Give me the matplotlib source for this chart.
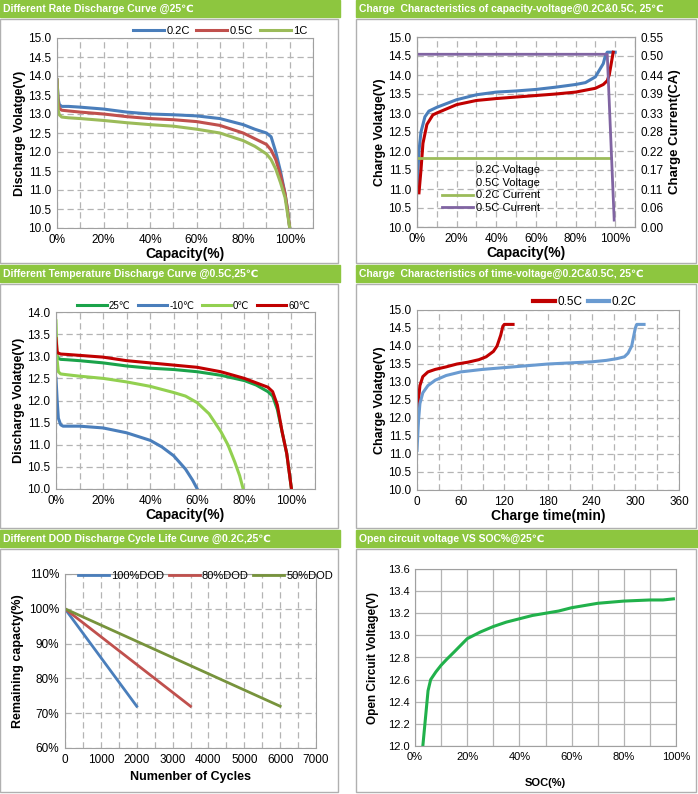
import matplotlib
matplotlib.use("Agg")
import matplotlib.pyplot as plt
from matplotlib.lines import Line2D
from matplotlib.patches import Rectangle
from matplotlib.ticker import MultipleLocator, FuncFormatter, PercentFormatter

plt.rcParams['font.family'] = ['Liberation Sans', 'DejaVu Sans']

W, H = 698, 794
GREEN_BAR = '#8dc63f'
BLUE, RED, OLIVE = '#4a7ebb', '#c0504d', '#9bbb59'

# panel 1: rate discharge
rate_cap = [0, 0.5, 1, 2, 5, 10, 20, 30, 40, 50, 60, 70, 80, 85, 90, 92, 94, 96, 98, 99, 100]
rate_02c = [13.9, 13.4, 13.25, 13.2, 13.2, 13.18, 13.13, 13.05, 13.0, 12.98, 12.95, 12.88, 12.72, 12.6, 12.5, 12.4, 12.0, 11.5, 10.9, 10.5, 10.0]
rate_05c = [13.9, 13.3, 13.15, 13.1, 13.08, 13.05, 13.0, 12.93, 12.88, 12.85, 12.8, 12.7, 12.5, 12.35, 12.2, 12.05, 11.8, 11.4, 10.9, 10.5, 10.0]
rate_1c = [13.9, 13.1, 12.98, 12.92, 12.9, 12.88, 12.83, 12.77, 12.72, 12.68, 12.6, 12.5, 12.3, 12.15, 11.95, 11.8, 11.55, 11.2, 10.8, 10.4, 10.0]

# panel 2: charge capacity-voltage
cv_cap_02 = [0, 0.5, 1, 2, 4, 6, 10, 20, 30, 40, 50, 60, 70, 80, 85, 90, 94, 95, 96, 100]
cv_v_02 = [10.9, 11.5, 12.0, 12.5, 12.9, 13.05, 13.15, 13.35, 13.48, 13.55, 13.58, 13.62, 13.68, 13.75, 13.8, 13.95, 14.3, 14.5, 14.6, 14.6]
cv_cap_05 = [1, 2, 3, 5, 8, 10, 20, 30, 40, 50, 60, 70, 80, 85, 90, 94, 96, 97, 98, 99]
cv_v_05 = [10.9, 11.5, 12.2, 12.7, 12.95, 13.0, 13.22, 13.33, 13.38, 13.42, 13.46, 13.5, 13.55, 13.6, 13.65, 13.75, 13.85, 14.0, 14.3, 14.6]
cur_cap_02 = [0.5, 98]
cur_02 = [0.2, 0.2]
cur_cap_05 = [0, 96, 99.5]
cur_05 = [0.5, 0.5, 0.02]

# panel 3: temperature discharge
t_cap = [0, 0.5, 1, 2, 5, 10, 20, 30, 40, 50, 60, 70, 80, 85, 90, 92, 94, 96, 98, 99, 100]
t_25 = [13.1, 13.0, 12.95, 12.93, 12.92, 12.9, 12.85, 12.78, 12.73, 12.7, 12.65, 12.57, 12.45, 12.35, 12.2, 12.1, 11.8, 11.3, 10.8, 10.4, 10.0]
t_60 = [13.4, 13.1, 13.07, 13.05, 13.04, 13.02, 12.98, 12.9, 12.85, 12.8, 12.75, 12.65, 12.5, 12.4, 12.3, 12.2, 11.9, 11.3, 10.8, 10.4, 10.0]
t_cap_0 = [0, 0.5, 1, 2, 5, 10, 20, 30, 40, 50, 55, 60, 65, 70, 73, 76, 78, 79.5]
t_0 = [13.8, 12.9, 12.65, 12.6, 12.58, 12.55, 12.5, 12.42, 12.32, 12.18, 12.1, 11.95, 11.7, 11.3, 11.0, 10.6, 10.3, 10.0]
t_cap_m10 = [0, 0.5, 1, 2, 3, 5, 10, 20, 30, 40, 45, 50, 55, 58, 60]
t_m10 = [12.5, 12.0, 11.6, 11.45, 11.42, 11.42, 11.42, 11.38, 11.27, 11.1, 10.95, 10.75, 10.45, 10.2, 10.0]

# panel 4: charge time-voltage
tv_t_05 = [0, 1, 2, 4, 8, 15, 25, 40, 55, 70, 85, 95, 105, 110, 115, 118, 120, 125, 132]
tv_v_05 = [11.4, 12.0, 12.5, 12.9, 13.15, 13.28, 13.35, 13.42, 13.5, 13.55, 13.62, 13.7, 13.85, 14.0, 14.3, 14.55, 14.6, 14.6, 14.6]
tv_t_02 = [0, 2, 4, 8, 15, 25, 40, 60, 90, 120, 150, 180, 210, 240, 260, 275, 285, 290, 295, 300, 302, 312]
tv_v_02 = [11.1, 11.9, 12.4, 12.7, 12.9, 13.05, 13.18, 13.28, 13.35, 13.4, 13.45, 13.5, 13.53, 13.56, 13.6, 13.65, 13.7, 13.8, 14.0, 14.5, 14.6, 14.6]

# panel 5: DOD cycle life
dod_labels = ['100%DOD', '80%DOD', '50%DOD']
dod_cycles = [[0, 2000], [0, 3500], [0, 6000]]
dod_capacity = [[100, 72], [100, 72], [100, 72]]

# panel 6: OCV vs SOC
soc = [3, 4, 5, 6, 8, 10, 12, 15, 20, 25, 30, 35, 40, 45, 50, 55, 60, 65, 70, 75, 80, 85, 90, 95, 99]
ocv = [12.0, 12.25, 12.5, 12.6, 12.67, 12.73, 12.78, 12.85, 12.97, 13.03, 13.08, 13.12, 13.15, 13.18, 13.2, 13.22, 13.25, 13.27, 13.29, 13.3, 13.31, 13.315, 13.32, 13.32, 13.33]

fig = plt.figure(figsize=(W / 100, H / 100), dpi=100)


def px_axes(x0, y0, x1, y1):
    return fig.add_axes([x0 / W, 1 - y1 / H, (x1 - x0) / W, (y1 - y0) / H])


def panel(x0, y0, x1, y1, title):
    # green header bar and gray frame
    fig.patches.append(Rectangle((x0 / W, 1 - (y0 + 17) / H), (x1 - x0) / W, 17 / H,
                                 transform=fig.transFigure, color=GREEN_BAR, zorder=0))
    fig.text((x0 + 3) / W, 1 - (y0 + 9) / H, title, color='white', fontsize=7.5,
             fontweight='bold', va='center')
    fig.patches.append(Rectangle((x0 / W, 1 - (y1 - 2) / H), (x1 - x0 - 2) / W, (y1 - y0 - 21) / H,
                                 transform=fig.transFigure, fill=False, ec='#b0b0b0', lw=1, zorder=0))


def style(ax, dashed=True):
    ax.tick_params(length=0, labelsize=8.5, pad=4)
    for s in ax.spines.values():
        s.set_color('#a0a0a0')
    gkw = dict(color='#b4b4b4', linewidth=0.9)
    if dashed:
        gkw.update(linestyle='--', dashes=(5, 3))
    ax.xaxis.grid(True, **gkw)
    ax.yaxis.grid(True, **gkw)
    ax.set_axisbelow(True)


pct = FuncFormatter(lambda v, p: f'{v:.0f}%' if abs(v - round(v / 20) * 20) < 1e-6 else '')

panel(0, 0, 340, 265, 'Different Rate Discharge Curve @25\u2103')
panel(356, 0, 698, 265, 'Charge  Characteristics of capacity-voltage@0.2C&0.5C, 25\u2103')
panel(0, 265, 340, 530, 'Different Temperature Discharge Curve @0.5C,25\u2103')
panel(356, 265, 698, 530, 'Charge  Characteristics of time-voltage@0.2C&0.5C, 25\u2103')
panel(0, 530, 340, 794, 'Different DOD Discharge Cycle Life Curve @0.2C,25\u2103')
panel(356, 530, 698, 794, 'Open circuit voltage VS SOC%@25\u2103')

lab = dict(fontsize=9, fontweight='bold')

# panel 1
ax = px_axes(57, 38, 313, 228)
ax.plot(rate_cap, rate_02c, color=BLUE, lw=2.2, label='0.2C')
ax.plot(rate_cap, rate_05c, color=RED, lw=2.2, label='0.5C')
ax.plot(rate_cap, rate_1c, color=OLIVE, lw=2.2, label='1C')
ax.set_xlim(0, 110); ax.set_ylim(10, 15)
ax.xaxis.set_major_locator(MultipleLocator(10)); ax.xaxis.set_major_formatter(pct)
ax.yaxis.set_major_locator(MultipleLocator(0.5)); ax.yaxis.set_major_formatter('{x:.1f}')
style(ax)
ax.set_xlabel('Capacity(%)', labelpad=1, fontsize=10, fontweight='bold')
ax.set_ylabel('Discharge Volatge(V)', labelpad=2, **lab)
ax.legend(loc='lower right', bbox_to_anchor=(1.0, 0.98), ncol=3, frameon=False, fontsize=8,
          handlelength=2.8, columnspacing=0.6, handletextpad=0.2, borderpad=0)

# panel 2
ax = px_axes(417, 37, 635, 227)
ax.plot(cv_cap_02, cv_v_02, color=BLUE, lw=2.2)
ax.plot(cv_cap_05, cv_v_05, color='#c00000', lw=2.2)
ax.set_xlim(0, 110); ax.set_ylim(10, 15)
ax.xaxis.set_major_locator(MultipleLocator(10)); ax.xaxis.set_major_formatter(pct)
ax.yaxis.set_major_locator(MultipleLocator(0.5)); ax.yaxis.set_major_formatter('{x:.1f}')
style(ax)
ax.set_xlabel('Capacity(%)', labelpad=1, fontsize=10, fontweight='bold')
ax.set_ylabel('Charge Volatge(V)', labelpad=2, **lab)
ax2 = ax.twinx()
ax2.plot(cur_cap_02, cur_02, color=OLIVE, lw=2)
ax2.plot(cur_cap_05, cur_05, color='#8064a2', lw=2)
ax2.set_ylim(0, 0.55)
ax2.set_yticks([i * 0.055 for i in range(11)])
ax2.set_yticklabels(['0.00', '0.06', '0.11', '0.17', '0.22', '0.28', '0.33', '0.39', '0.44', '0.50', '0.55'])
ax2.tick_params(length=0, labelsize=8.5, pad=4)
for s in ax2.spines.values():
    s.set_color('#a0a0a0')
ax2.set_ylabel('Charge Current(CA)', labelpad=4, fontsize=9.5, fontweight='bold')
hs = [Line2D([], [], color='none'), Line2D([], [], color='none'),
      Line2D([], [], color=OLIVE, lw=2), Line2D([], [], color='#8064a2', lw=2)]
ax2.legend(hs, ['0.2C Voltage', '0.5C Voltage', '0.2C Current', '0.5C Current'], loc='lower left',
           bbox_to_anchor=(0.07, 0.02), frameon=False, fontsize=8, handlelength=2.8,
           handletextpad=0.2, labelspacing=0.25)

# panel 3
ax = px_axes(56, 312, 315, 489)
ax.plot(t_cap, t_25, color='#1aa34a', lw=2.2, label='25\u2103')
ax.plot(t_cap_m10, t_m10, color=BLUE, lw=2.2, label='-10\u2103')
ax.plot(t_cap_0, t_0, color='#92d050', lw=2.2, label='0\u2103')
ax.plot(t_cap, t_60, color='#c00000', lw=2.2, label='60\u2103')
ax.set_xlim(0, 110); ax.set_ylim(10, 14)
ax.xaxis.set_major_locator(MultipleLocator(10)); ax.xaxis.set_major_formatter(pct)
ax.yaxis.set_major_locator(MultipleLocator(0.5)); ax.yaxis.set_major_formatter('{x:.1f}')
style(ax)
ax.set_xlabel('Capacity(%)', labelpad=1, fontsize=10, fontweight='bold')
ax.set_ylabel('Discharge Volatge(V)', labelpad=2, **lab)
ax.legend(loc='lower right', bbox_to_anchor=(1.0, 0.98), ncol=4, frameon=False, fontsize=7,
          handlelength=3, columnspacing=0.8, handletextpad=0.2, borderpad=0)

# panel 4
ax = px_axes(417, 310, 679, 490)
ax.plot(tv_t_05, tv_v_05, color='#c00000', lw=2.2, label='0.5C')
ax.plot(tv_t_02, tv_v_02, color='#6a9bd1', lw=2.2, label='0.2C')
ax.set_xlim(0, 360); ax.set_ylim(10, 15)
ax.xaxis.set_major_locator(MultipleLocator(30))
ax.xaxis.set_major_formatter(FuncFormatter(lambda v, p: f'{v:.0f}' if v % 60 == 0 else ''))
ax.yaxis.set_major_locator(MultipleLocator(0.5)); ax.yaxis.set_major_formatter('{x:.1f}')
style(ax)
ax.set_xlabel('Charge time(min)', labelpad=1, fontsize=10, fontweight='bold')
ax.set_ylabel('Charge Volatge(V)', labelpad=2, **lab)
leg = ax.legend(loc='lower right', bbox_to_anchor=(0.86, 0.98), ncol=2, frameon=False, fontsize=8.5,
                handlelength=1.8, columnspacing=0.5, handletextpad=0.2, borderpad=0)
for h in leg.legend_handles:
    h.set_linewidth(3)

# panel 5
ax = px_axes(65, 574, 316, 748)
for name, xs, ys, c in zip(dod_labels, dod_cycles, dod_capacity, [BLUE, RED, '#77933c']):
    ax.plot(xs, ys, color=c, lw=2, label=name)
ax.set_xlim(0, 7000); ax.set_ylim(60, 110)
ax.xaxis.set_major_locator(MultipleLocator(500))
ax.xaxis.set_major_formatter(FuncFormatter(lambda v, p: f'{v:.0f}' if v % 1000 == 0 else ''))
ax.yaxis.set_major_locator(MultipleLocator(10)); ax.yaxis.set_major_formatter(PercentFormatter(decimals=0))
style(ax)
ax.set_xlabel('Numenber of Cycles', labelpad=4, **lab)
ax.set_ylabel('Remaining capacty(%)', labelpad=4, **lab)
ax.legend(loc='lower center', bbox_to_anchor=(0.56, 0.93), ncol=3, frameon=False, fontsize=8,
          handlelength=2.8, columnspacing=0.4, handletextpad=0.2, borderpad=0)

# panel 6
ax = px_axes(415, 569, 676, 746)
ax.plot(soc, ocv, color='#21b14b', lw=2.2)
ax.set_xlim(0, 100); ax.set_ylim(12.0, 13.6)
ax.xaxis.set_major_locator(MultipleLocator(10)); ax.xaxis.set_major_formatter(pct)
ax.yaxis.set_major_locator(MultipleLocator(0.2)); ax.yaxis.set_major_formatter('{x:.1f}')
style(ax, dashed=False)
ax.tick_params(labelsize=8)
ax.set_xlabel('SOC(%)', labelpad=12, fontsize=8, fontweight='bold')
ax.set_ylabel('Open Circuit Voltage(V)', labelpad=6, fontsize=8.5, fontweight='bold')

fig.savefig('out.png', dpi=100)
